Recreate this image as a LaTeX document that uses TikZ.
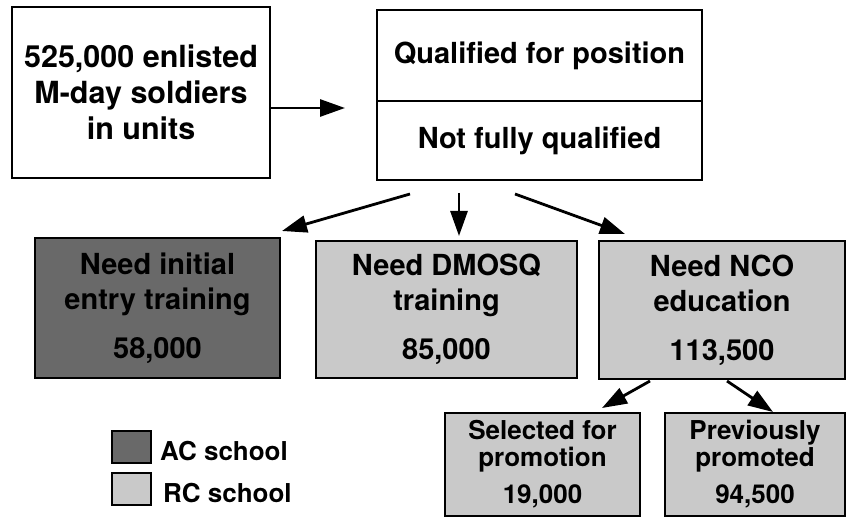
\documentclass[tikz,border=0pt]{standalone}
\usepackage{fontspec}
\setmainfont{TeX Gyre Heros}
\usetikzlibrary{arrows.meta}
\definecolor{darkfill}{gray}{0.41}
\definecolor{lightfill}{gray}{0.79}
\tikzset{
 box/.style={draw, line width=2.2pt, inner sep=0pt, align=center, font=\fontsize{29}{35}\selectfont\bfseries},
 bigbox/.style={box, font=\fontsize{30.5}{36}\selectfont\bfseries},
 smallbox/.style={box, font=\fontsize{26}{27}\selectfont\bfseries},
 arr/.style={line width=2.8pt, -{Triangle[length=25pt,width=17pt]}},
 legtext/.style={font=\fontsize{26}{30}\selectfont\bfseries, anchor=base west, inner sep=0pt},
 legbox/.style={draw, line width=2pt, minimum width=39pt, minimum height=32pt, inner sep=0pt}
}
\begin{document}
\begin{tikzpicture}[x=1pt,y=-1pt]
\useasboundingbox (0,0) rectangle (846,518);
% top row
\node[bigbox, minimum width=258pt, minimum height=171pt] (src) at (141,92.5) {525,000 enlisted\\M-day soldiers\\in units};
\node[box, minimum width=325pt, minimum height=91pt] (qual) at (539.5,55.5) {Qualified for position};
\node[box, minimum width=325pt, minimum height=79pt] (notq) at (539.5,140.5) {Not fully qualified};
% middle row
\node[box, fill=darkfill, minimum width=245pt, minimum height=140pt] (init) at (157.5,308) {Need initial\\entry training\\[14pt]58,000};
\node[box, fill=lightfill, minimum width=261pt, minimum height=137pt] (dmosq) at (446.5,309.5) {Need DMOSQ\\training\\[14pt]85,000};
\node[box, fill=lightfill, minimum width=246pt, minimum height=138pt] (nco) at (722,310) {Need NCO\\education\\[14pt]113,500};
% bottom row
\node[smallbox, fill=lightfill, minimum width=195pt, minimum height=103pt] (sel) at (542.5,464.5) {Selected for\\promotion\\[10pt]19,000};
\node[smallbox, fill=lightfill, minimum width=180pt, minimum height=103pt] (prev) at (755,464.5) {Previously\\promoted\\[10pt]94,500};
% legend
\node[legbox, fill=darkfill] (lac) at (131.5,447) {};
\node[legbox, fill=lightfill] (lrc) at (131.5,489) {};
\node[legtext] (tac) at (160,460) {AC school};
\node[legtext] (trc) at (163,502) {RC school};
% connectors
\coordinate (a1) at (345,108);
\draw[arr] (src.east |- a1) -- (a1);
\coordinate (l0) at (410,194);
\coordinate (l1) at (282,231);
\coordinate (m0) at (459,193);
\coordinate (m1) at (459,236);
\coordinate (r0) at (515,194);
\coordinate (r1) at (625,234);
\draw[arr] (l0) -- (l1);
\draw[arr] (m0) -- (m1);
\draw[arr] (r0) -- (r1);
\coordinate (s0) at (650,381);
\coordinate (s1) at (602,408);
\coordinate (p0) at (727,381);
\coordinate (p1) at (773,412);
\draw[arr] (s0) -- (s1);
\draw[arr] (p0) -- (p1);
\end{tikzpicture}
\end{document}
